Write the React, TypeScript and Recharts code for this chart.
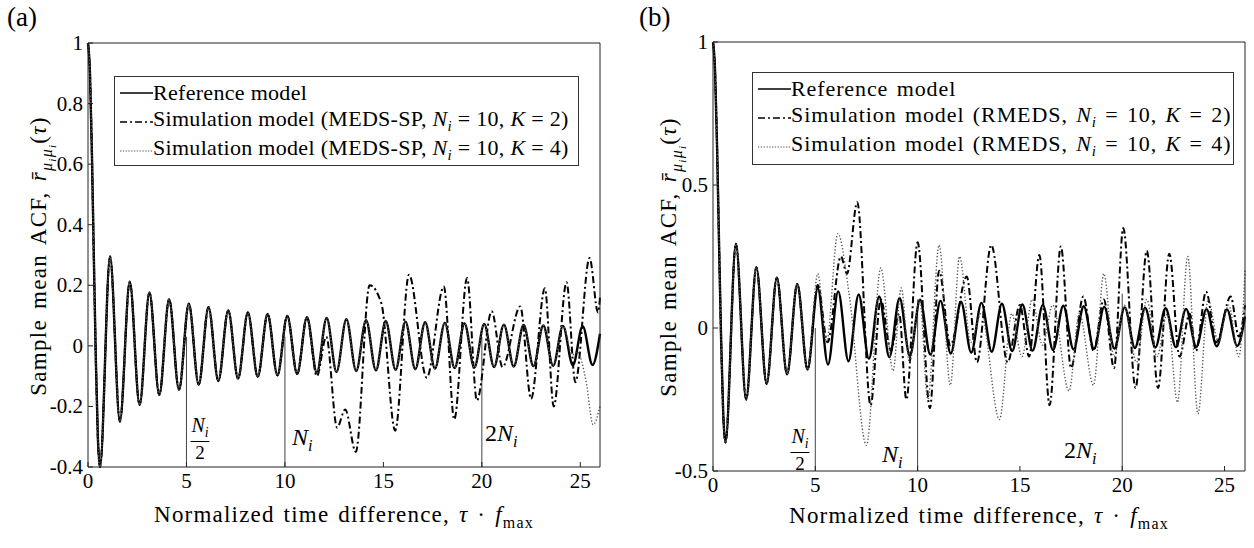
import React from 'react';
import { LineChart, Line, XAxis, YAxis, ReferenceLine } from 'recharts';

// reference model ACF (same curve in (a) and (b)): [tau, value]
const refCurve: [number, number][] = [
  [0, 1.0], [0.1, 0.9], [0.2, 0.63], [0.3, 0.28], [0.4, -0.05], [0.5, -0.3], [0.61, -0.4],
  [1.12, 0.295], [1.62, -0.25], [2.12, 0.212], [2.62, -0.195], [3.12, 0.176], [3.62, -0.162],
  [4.12, 0.154], [4.62, -0.145], [5.12, 0.139], [5.62, -0.128], [6.12, 0.128], [6.62, -0.116],
  [7.12, 0.117], [7.62, -0.108], [8.12, 0.11], [8.62, -0.102], [9.12, 0.105], [9.62, -0.097],
  [10.12, 0.099], [10.62, -0.093], [11.12, 0.095], [11.62, -0.089], [12.12, 0.092], [12.62, -0.086],
  [13.12, 0.088], [13.62, -0.083], [14.12, 0.085], [14.62, -0.081], [15.12, 0.082], [15.62, -0.079],
  [16.12, 0.08], [16.62, -0.077], [17.12, 0.078], [17.62, -0.075], [18.12, 0.076], [18.62, -0.073],
  [19.12, 0.074], [19.62, -0.072], [20.12, 0.072], [20.62, -0.07], [21.12, 0.07], [21.62, -0.068],
  [22.12, 0.069], [22.62, -0.067], [23.12, 0.067], [23.62, -0.066], [24.12, 0.066], [24.62, -0.064],
  [25.12, 0.065], [25.62, -0.063], [26, 0.04],
];

// panel (a): MEDS-SP, where the simulation curves leave the reference
const medsK2Tail: [number, number][] = [
  [11.62, -0.1], [12.1, 0.03], [12.65, -0.27], [13.06, -0.21], [13.6, -0.35], [14.3, 0.2],
  [14.9, 0.14], [15.6, -0.28], [16.3, 0.235], [17.2, -0.105], [18.07, 0.196], [18.6, -0.243],
  [19.25, 0.224], [19.75, -0.18], [20.5, 0.114], [21.05, -0.07], [21.95, 0.13], [22.5, -0.175],
  [23.2, 0.19], [23.65, -0.2], [24.3, 0.21], [24.75, -0.12], [25.47, 0.29], [25.9, 0.11], [26, 0.16],
];
const medsK4Tail: [number, number][] = [
  [24.6, -0.03], [24.85, -0.02], [25.3, -0.12], [25.65, -0.26], [26, -0.2],
];

// panel (b): RMEDS
const rmedsK2Tail: [number, number][] = [
  [5.12, 0.15], [5.6, -0.05], [6.25, 0.25], [6.55, 0.19], [7.05, 0.44], [7.7, -0.27], [8.2, 0.1],
  [8.7, -0.08], [9.1, 0.05], [9.45, -0.25], [10.0, 0.3], [10.6, -0.28], [11.05, 0.2], [11.6, -0.06],
  [12.4, 0.18], [12.9, -0.12], [13.6, 0.29], [14.4, -0.12], [15.0, 0.08], [15.45, -0.1], [15.95, 0.255],
  [16.45, -0.27], [17.0, 0.285], [17.5, -0.14], [18.1, 0.11], [18.6, -0.08], [19.1, 0.1], [19.6, -0.14],
  [20.05, 0.35], [20.65, -0.21], [21.2, 0.27], [21.75, -0.21], [22.3, 0.26], [22.8, -0.1], [23.3, 0.05],
  [23.6, -0.08], [24.1, 0.127], [24.6, -0.05], [25.3, 0.11], [25.7, -0.03], [26, 0.08],
];
const rmedsK4Tail: [number, number][] = [
  [5.12, 0.19], [5.55, -0.05], [6.1, 0.33], [6.65, 0.12], [7.5, -0.41], [8.2, 0.21], [8.8, -0.15],
  [9.2, 0.14], [9.6, -0.12], [10.1, 0.1], [10.5, -0.25], [11.05, 0.29], [11.6, -0.2], [12.05, 0.25],
  [12.6, -0.05], [13.1, 0.05], [14.0, -0.32], [14.6, 0.05], [15.1, -0.1], [15.6, 0.1], [16.1, -0.06],
  [16.6, 0.08], [17.4, -0.22], [17.9, 0.05], [18.6, -0.2], [19.1, 0.19], [19.6, -0.1], [20.1, 0.08],
  [20.7, -0.12], [21.2, 0.1], [21.7, -0.1], [22.2, 0.05], [22.7, -0.26], [23.2, 0.25], [23.7, -0.3],
  [24.2, 0.1], [24.7, -0.05], [25.2, 0.08], [25.7, -0.1], [26, 0.2],
];

const xTicks = [0, 5, 10, 15, 20, 25];
const yTicksA = [-0.4, -0.2, 0, 0.2, 0.4, 0.6, 0.8, 1];
const yTicksB = [-0.5, 0, 0.5, 1];
const markerTaus = [5, 10, 20];
const markerTopA = [0.03, 0.03, 0.03];
const markerTopB = [0.0, 0.1, 0.12];

const FONT = '"Liberation Serif", "Times New Roman", serif';
const AXIS = '#222';

const toPts = (arr: [number, number][]) => arr.map(([t, v]) => ({ t, v }));
const upTo = (arr: [number, number][], tmax: number) => arr.filter(([t]) => t <= tmax);

const refPts = toPts(refCurve);
const medsK2 = toPts([...upTo(refCurve, 11.2), ...medsK2Tail]);
const medsK4 = toPts([...upTo(refCurve, 24.2), ...medsK4Tail]);
const rmedsK2 = toPts([...upTo(refCurve, 4.7), ...rmedsK2Tail]);
const rmedsK4 = toPts([...upTo(refCurve, 4.7), ...rmedsK4Tail]);

// inward MATLAB-style ticks
const BottomTick = ({ x, y, payload }: any) => (
  <g>
    <line x1={x} x2={x} y1={y} y2={y - 5} stroke={AXIS} />
    <text x={x} y={y + 21} textAnchor="middle" fontSize={21} fontFamily={FONT} fill="#000">
      {payload.value}
    </text>
  </g>
);
const TopTick = ({ x, y }: any) => <line x1={x} x2={x} y1={y} y2={y + 5} stroke={AXIS} />;
const LeftTick = ({ x, y, payload }: any) => (
  <g>
    <line x1={x} x2={x + 5} y1={y} y2={y} stroke={AXIS} />
    <text x={x - 5} y={y + 7} textAnchor="end" fontSize={21} fontFamily={FONT} fill="#000">
      {payload.value}
    </text>
  </g>
);
const RightTick = ({ x, y }: any) => <line x1={x} x2={x - 5} y1={y} y2={y} stroke={AXIS} />;

function Panel({ width, margin, yTicks, yMin, sims, markerTop }: any) {
  return (
    <LineChart width={width} height={548} margin={margin} style={{ fontFamily: FONT }}>
      <XAxis dataKey="t" type="number" domain={[0, 26]} ticks={xTicks} interval={0} height={40}
        axisLine={{ stroke: AXIS }} tickLine={false} tickSize={0} tickMargin={0} tick={<BottomTick />} />
      <XAxis xAxisId="top" orientation="top" type="number" domain={[0, 26]} ticks={xTicks} interval={0}
        height={1} axisLine={{ stroke: AXIS }} tickLine={false} tickSize={0} tickMargin={0} tick={<TopTick />} />
      <YAxis type="number" domain={[yMin, 1]} ticks={yTicks} interval={0} width={60}
        axisLine={{ stroke: AXIS }} tickLine={false} tickSize={0} tickMargin={0} tick={<LeftTick />} />
      <YAxis yAxisId="right" orientation="right" type="number" domain={[yMin, 1]} ticks={yTicks} interval={0}
        width={1} axisLine={{ stroke: AXIS }} tickLine={false} tickSize={0} tickMargin={0} tick={<RightTick />} />
      {markerTaus.map((tau, i) => (
        <ReferenceLine key={tau} segment={[{ x: tau, y: yMin }, { x: tau, y: markerTop[i] }]}
          stroke="#444" strokeWidth={1} />
      ))}
      <Line data={refPts} dataKey="v" type="monotone" stroke="#000" strokeWidth={2.4}
        dot={false} isAnimationActive={false} />
      <Line data={sims[0]} dataKey="v" type="monotone" stroke="#000" strokeWidth={2}
        strokeDasharray="7 3 2 3" dot={false} isAnimationActive={false} />
      <Line data={sims[1]} dataKey="v" type="monotone" stroke="#555" strokeWidth={1.4}
        strokeDasharray="1.3 2" dot={false} isAnimationActive={false} />
    </LineChart>
  );
}

const Ni = ({ size }: { size: number }) => (
  <span style={{ fontSize: size }}>
    <i>N</i>
    <sub style={{ fontSize: size * 0.68, fontStyle: 'italic' }}>i</sub>
  </span>
);

function LegendBox({ left, top, width, height, method, spacing, words }: any) {
  const row = (dash: string | undefined, color: string, sw: number, content: React.ReactNode) => (
    <div style={{ display: 'flex', alignItems: 'center', height: 29 }}>
      <svg width={34} height={10} style={{ flex: 'none' }}>
        <line x1={1} y1={5} x2={34} y2={5} stroke={color} strokeWidth={sw} strokeDasharray={dash} />
      </svg>
      <span style={{ whiteSpace: 'nowrap' }}>{content}</span>
    </div>
  );
  const sim = (k: number) => (
    <>
      Simulation model ({method}, <Ni size={22} /> = 10, <i>K</i> = {k})
    </>
  );
  return (
    <div style={{ position: 'absolute', left, top, width, height, boxSizing: 'border-box',
      border: '1px solid #333', background: '#fff', fontSize: 22, letterSpacing: spacing, wordSpacing: words,
      fontFamily: FONT, padding: '1px 0 0 4px', lineHeight: 1 }}>
      {row(undefined, '#000', 1.6, 'Reference model')}
      {row('7 3 2 3', '#000', 1.4, sim(2))}
      {row('1.3 1.5', '#555', 1.2, sim(4))}
    </div>
  );
}

const YLabel = ({ cx, cy }: { cx: number; cy: number }) => (
  <div style={{ position: 'absolute', left: cx, top: cy, transform: 'translate(-50%, -50%) rotate(-90deg)',
    whiteSpace: 'nowrap', fontSize: 23, letterSpacing: 1.3, wordSpacing: 3, fontFamily: FONT, lineHeight: 1 }}>
    Sample mean ACF, <i>r&#772;</i>
    <sub style={{ fontSize: 16, fontStyle: 'italic' }}>
      μ<sub style={{ fontSize: 11 }}>i</sub>μ<sub style={{ fontSize: 11 }}>i</sub>
    </sub>
    (<i>τ</i>)
  </div>
);

const XLabel = ({ cx, cy }: { cx: number; cy: number }) => (
  <div style={{ position: 'absolute', left: cx, top: cy, transform: 'translate(-50%, -50%)',
    whiteSpace: 'nowrap', fontSize: 23, letterSpacing: 1.2, wordSpacing: 2, fontFamily: FONT, lineHeight: 1 }}>
    Normalized time difference, <i>τ</i> · <i>f</i>
    <sub style={{ fontSize: 16 }}>max</sub>
  </div>
);

const Half = ({ cx, top }: { cx: number; top: number }) => (
  <div style={{ position: 'absolute', left: cx, top, transform: 'translateX(-50%)',
    display: 'flex', flexDirection: 'column', alignItems: 'center', fontFamily: FONT, lineHeight: 1 }}>
    <div style={{ borderBottom: '1px solid #000', padding: '0 1px 1px' }}><Ni size={20} /></div>
    <div style={{ fontSize: 19, paddingTop: 1 }}>2</div>
  </div>
);

const Txt = ({ left, top, children, size = 24 }: any) => (
  <div style={{ position: 'absolute', left, top, fontFamily: FONT, fontSize: size, lineHeight: 1,
    whiteSpace: 'nowrap' }}>{children}</div>
);

export default function App() {
  return (
    <div style={{ position: 'fixed', left: 0, top: 0, width: 1254, height: 548, background: '#fff',
      overflow: 'hidden', fontFamily: FONT }}>
      <div style={{ position: 'absolute', left: 0, top: 0 }}>
        <Panel width={620} margin={{ top: 42, left: 28, right: 19, bottom: 41 }} yTicks={yTicksA}
          yMin={-0.4} sims={[medsK2, medsK4]} markerTop={markerTopA} />
      </div>
      <div style={{ position: 'absolute', left: 640, top: 0 }}>
        <Panel width={614} margin={{ top: 41, left: 13, right: 8, bottom: 37 }} yTicks={yTicksB}
          yMin={-0.5} sims={[rmedsK2, rmedsK4]} markerTop={markerTopB} />
      </div>

      <Txt left={7} top={4} size={27}>(a)</Txt>
      <Txt left={639} top={4} size={27}>(b)</Txt>

      <LegendBox left={114} top={76} width={465} height={90} method="MEDS-SP" spacing={0.3} words={0} />
      <LegendBox left={752} top={72} width={482} height={93} method="RMEDS" spacing={0.9} words={2} />

      <YLabel cx={42} cy={256} />
      <YLabel cx={672} cy={257} />
      <XLabel cx={344} cy={517} />
      <XLabel cx={979} cy={518} />

      <Half cx={200} top={415} />
      <Txt left={292} top={425}><Ni size={24} /></Txt>
      <Txt left={485} top={421}>2<Ni size={24} /></Txt>

      <Half cx={800} top={426} />
      <Txt left={882} top={442}><Ni size={24} /></Txt>
      <Txt left={1064} top={438}>2<Ni size={24} /></Txt>
    </div>
  );
}
